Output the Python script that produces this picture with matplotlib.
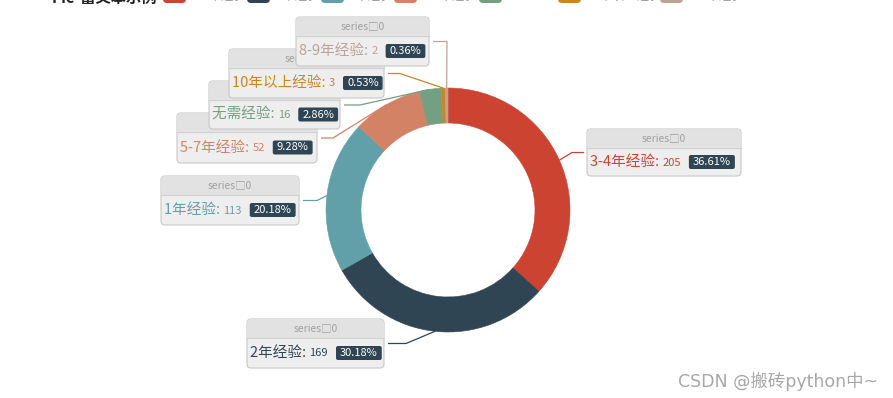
import numpy as np
import matplotlib
matplotlib.use('Agg')
import matplotlib.pyplot as plt
from matplotlib.patches import FancyBboxPatch, Rectangle

plt.rcParams['font.family'] = ['Noto Sans CJK SC', 'DejaVu Sans']

W, H = 893, 398

# data
title = 'Pie-富文本示例'
series_name = 'series\u25a10'
categories = ['3-4年经验', '2年经验', '1年经验', '5-7年经验', '无需经验', '10年以上经验', '8-9年经验']
values = [205, 169, 113, 52, 16, 3, 2]
colors = ['#cd4331', '#2f4554', '#61a0a8', '#d48265', '#749f83', '#ca8622', '#bda29a']
watermark = 'CSDN @搬砖python中~'

# layout (pixels, measured from the top-left corner)
center = (448, 210)
r_out, r_in = 122, 87
# label boxes: left, top, right, bottom
boxes = [(587, 129, 741, 176), (247, 319, 384, 368), (161, 176, 299, 225),
         (177, 113, 317, 163), (209, 81, 340, 129), (229, 49, 384, 98),
         (296, 17, 429, 66)]
# leader line: end x at box, elbow x
leaders = [(584, 572), (388, 406), (303, 317), (321, 333), (344, 360), (388, 400), (433, 447)]
legend_x = [163, 247, 321, 394, 479, 558, 660]
header_h = 19


def Y(y):
    return H - y


def percents(vals, digits=2):
    # largest remainder rounding, so the shares add up to 100
    scale = 10 ** digits
    raw = np.array(vals, dtype=float) / sum(vals) * 100 * scale
    base = np.floor(raw)
    left = int(round(100 * scale - base.sum()))
    order = np.argsort(-(raw - base), kind='stable')
    base[order[:left]] += 1
    return base / scale


fig = plt.figure(figsize=(W / 100, H / 100), dpi=100)
ax = fig.add_axes([0, 0, 1, 1])
ax.axis('off')

wedges, _ = ax.pie(values, colors=colors, startangle=90, counterclock=False,
                   radius=r_out, center=(center[0], Y(center[1])),
                   wedgeprops=dict(width=r_out - r_in, linewidth=0.4, antialiased=True),
                   frame=False)
for w, c in zip(wedges, colors):
    w.set_edgecolor(c)
ax.set_xlim(0, W)
ax.set_ylim(0, H)
ax.set_aspect('auto')

renderer = fig.canvas.get_renderer()
shares = percents(values)


def width_of(t):
    return t.get_window_extent(renderer=renderer).width


# leader lines
for i, w in enumerate(wedges):
    mid = np.deg2rad((w.theta1 + w.theta2) / 2)
    x0 = center[0] + r_out * np.cos(mid)
    y0 = Y(center[1]) + r_out * np.sin(mid)
    bx0, by0, bx1, by1 = boxes[i]
    ym = Y((by0 + by1) / 2)
    end_x, elbow_x = leaders[i]
    ax.plot([x0, elbow_x, end_x], [y0, ym, ym], color=colors[i], lw=0.9, zorder=2,
            solid_capstyle='butt')

# label boxes
for i, (cat, val) in enumerate(zip(categories, values)):
    bx0, by0, bx1, by1 = boxes[i]
    z = 5 + i * 3
    outer = FancyBboxPatch((bx0, Y(by1)), bx1 - bx0, by1 - by0,
                           boxstyle='round,pad=0,rounding_size=4',
                           fc='#eeeeee', ec='#c8c8c8', lw=0.8, zorder=z)
    ax.add_patch(outer)
    head = Rectangle((bx0, Y(by0 + header_h)), bx1 - bx0, header_h,
                     fc='#e2e2e2', ec='none', zorder=z + 0.1)
    ax.add_patch(head)
    head.set_clip_path(outer)
    ax.plot([bx0, bx1], [Y(by0 + header_h)] * 2, color='#d0d0d0', lw=0.8, zorder=z + 0.2)
    ax.text((bx0 + bx1) / 2, Y(by0 + header_h / 2), series_name, fontsize=7.5,
            color='#a0a0a0', ha='center', va='center', zorder=z + 0.3)

    yb = Y((by0 + header_h + by1) / 2)
    t1 = ax.text(bx0 + 3, yb, cat + ': ', fontsize=10.5, color=colors[i],
                 ha='left', va='center', zorder=z + 0.3)
    x = bx0 + 3 + width_of(t1)
    t2 = ax.text(x, yb - 0.5, str(val), fontsize=8, color=colors[i],
                 ha='left', va='center', zorder=z + 0.3)
    x += width_of(t2) + 8
    pct = '%.2f%%' % shares[i]
    t3 = ax.text(x + 4, yb, pct, fontsize=8, color='white',
                 ha='left', va='center', zorder=z + 0.5)
    pw = width_of(t3) + 8
    ax.add_patch(FancyBboxPatch((x, yb - 7), pw, 14,
                                boxstyle='round,pad=0,rounding_size=2',
                                fc='#2f4554', ec='none', zorder=z + 0.4))

# title and legend, mostly cut off at the top edge
ax.text(52, Y(6), title, fontsize=11, fontweight='bold', color='#222222',
        ha='left', va='bottom', zorder=20, clip_on=False)
for i, cat in enumerate(categories):
    lx = legend_x[i]
    ax.add_patch(FancyBboxPatch((lx, Y(3)), 23, 14,
                                boxstyle='round,pad=0,rounding_size=4',
                                fc=colors[i], ec='none', zorder=20, clip_on=False))
    ax.text(lx + 28, Y(-4), cat, fontsize=9, color='#999999',
            ha='left', va='center', zorder=20, clip_on=False)

ax.text(678, Y(381), watermark, fontsize=12.5, color='#a8a8a8',
        family=['DejaVu Sans', 'Noto Sans CJK SC'],
        ha='left', va='center', zorder=20)

fig.savefig('out.png', dpi=100)
